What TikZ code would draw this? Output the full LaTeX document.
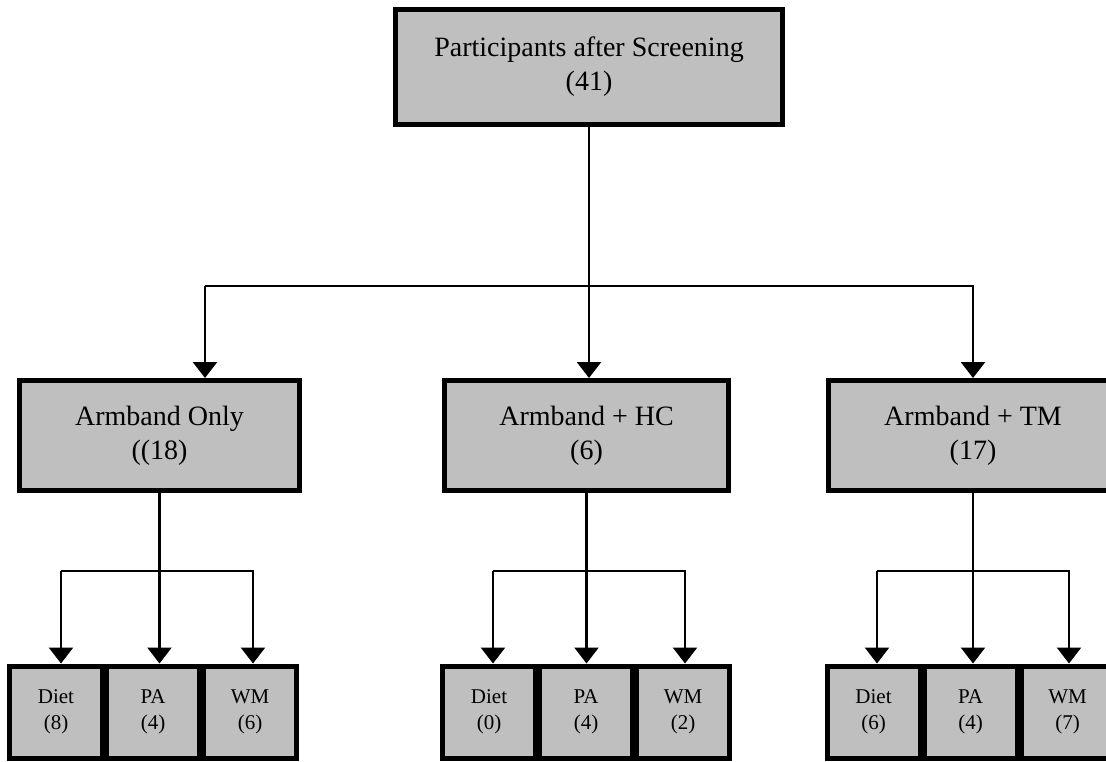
\documentclass[tikz,border=0pt]{standalone}
\usepackage{fontspec}
\setmainfont{Liberation Serif}
\usetikzlibrary{arrows.meta,positioning}
\definecolor{boxgray}{RGB}{191,191,191}

\begin{document}
\begin{tikzpicture}[
    x=0.5pt, y=-0.5pt,
    box/.style={rectangle, draw, line width=2.5pt, fill=boxgray, align=center, font=\fontsize{14}{17}\selectfont},
    sub/.style={box, minimum width=46.5pt, minimum height=46pt, inner sep=0pt, font=\fontsize{10.5}{13}\selectfont},
    arr/.style={-{Triangle[length=8pt,width=12pt]}, line width=1.2pt}
]
\useasboundingbox (0,0) rectangle (1106,761);

\node[box, minimum width=193.5pt, minimum height=57.5pt] (screen) at (589,67) {Participants after Screening\\(41)};

\node[box, minimum width=140pt, minimum height=55pt] (only) at (159.5,435.5) {Armband Only\\((18)};
\node[box, minimum width=142pt, minimum height=55pt] (hc) at (586.5,435.5) {Armband + HC\\(6)};
\node[box, minimum width=145pt, minimum height=55pt] (tm) at (973,435.5) {Armband + TM\\(17)};

% sub-groups
\node[sub] (paA) at (153,712) {PA\\(4)};
\node[sub, left=-0.5pt of paA] (dietA) {Diet\\(8)};
\node[sub, right=-0.5pt of paA] (wmA) {WM\\(6)};

\node[sub] (paB) at (586,712) {PA\\(4)};
\node[sub, left=-0.5pt of paB] (dietB) {Diet\\(0)};
\node[sub, right=-0.5pt of paB] (wmB) {WM\\(2)};

\node[sub] (paC) at (970.5,712) {PA\\(4)};
\node[sub, left=-0.5pt of paC] (dietC) {Diet\\(6)};
\node[sub, right=-0.5pt of paC] (wmC) {WM\\(7)};

% top fork
\coordinate (lsplit) at (205,286);
\coordinate (rsplit) at (973,286);
\draw[arr] (screen.south) -- (screen.south |- hc.north);
\draw[arr] (lsplit) -- (lsplit |- only.north);
\draw[arr] (lsplit) -- (rsplit) -- (rsplit |- tm.north);

% lower forks
\coordinate (forkA) at (61,571);
\coordinate (endA) at (253,571);
\draw[arr] (only.south) -- (only.south |- paA.north);
\draw[arr] (forkA) -- (forkA |- dietA.north);
\draw[arr] (forkA) -- (endA) -- (endA |- wmA.north);

\coordinate (forkB) at (493,571);
\coordinate (endB) at (685,571);
\draw[arr] (hc.south) -- (hc.south |- paB.north);
\draw[arr] (forkB) -- (forkB |- dietB.north);
\draw[arr] (forkB) -- (endB) -- (endB |- wmB.north);

\coordinate (forkC) at (877,571);
\coordinate (endC) at (1069,571);
\draw[arr] (tm.south) -- (tm.south |- paC.north);
\draw[arr] (forkC) -- (forkC |- dietC.north);
\draw[arr] (forkC) -- (endC) -- (endC |- wmC.north);

\end{tikzpicture}
\end{document}
